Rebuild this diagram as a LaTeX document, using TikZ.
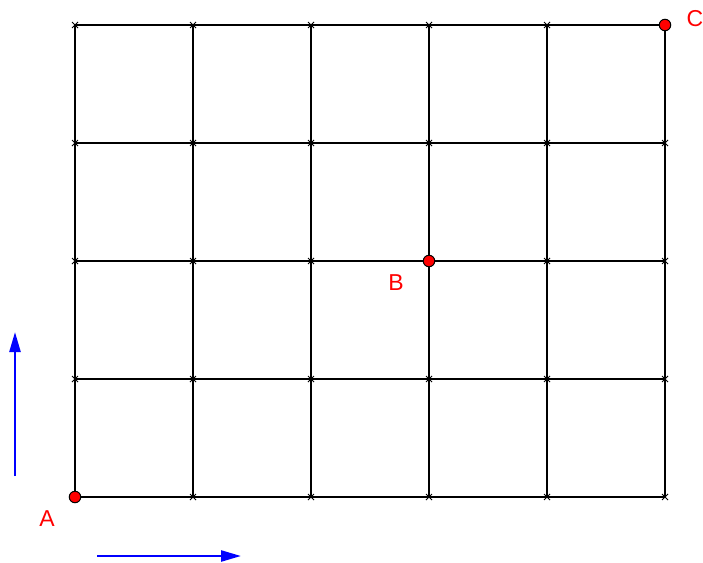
\documentclass[tikz,border=0pt]{standalone}
\usepackage{fontspec}
\setmainfont{Liberation Sans}
\usetikzlibrary{arrows.meta}
\begin{document}
\begin{tikzpicture}[x=1pt,y=-1pt,
  gridline/.style={line width=1.8pt,black},
  tick/.style={line width=0.9pt,black},
  pt/.style={circle,draw=black,line width=1pt,fill=red,inner sep=0pt,minimum size=11.5pt},
  lbl/.style={text=red,font=\fontsize{23}{23}\selectfont,inner sep=0pt},
  dir/.style={blue,line width=2.4pt,-{Triangle[length=20pt,width=11pt]}}]
\useasboundingbox (0,0) rectangle (703,562);
% grid
\foreach \i in {0,...,5} {
  \draw[gridline] ({75+118*\i},25) -- ({75+118*\i},497);
}
\foreach \j in {0,...,4} {
  \draw[gridline] (75,{25+118*\j}) -- (665,{25+118*\j});
}
% small crosses at intersections
\foreach \i in {0,...,5} {
  \foreach \j in {0,...,4} {
    \draw[tick] ({75+118*\i-3},{25+118*\j-3}) -- ({75+118*\i+3},{25+118*\j+3});
    \draw[tick] ({75+118*\i-3},{25+118*\j+3}) -- ({75+118*\i+3},{25+118*\j-3});
  }
}
% points
\node[pt] (A) at (75,497) {};
\node[pt] (B) at (429,261) {};
\node[pt] (C) at (665,25) {};
\node[lbl] (la) at (47,519) {A};
\node[lbl] (lb) at (396,283) {B};
\node[lbl] (lc) at (695,19) {C};
% direction arrows
\coordinate (v0) at (15,476);
\coordinate (v1) at (15,332);
\coordinate (h0) at (97,556);
\coordinate (h1) at (241,556);
\draw[dir] (v0) -- (v1);
\draw[dir] (h0) -- (h1);
\end{tikzpicture}
\end{document}
